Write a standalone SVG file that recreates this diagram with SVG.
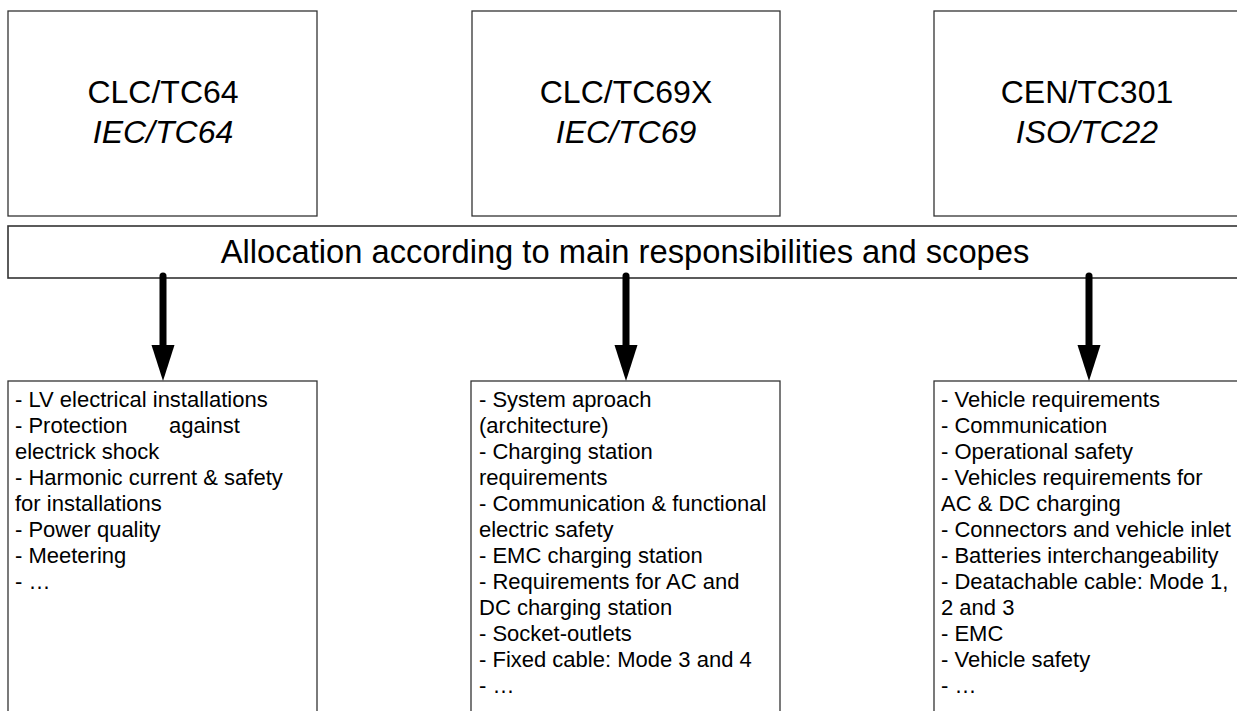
<svg xmlns="http://www.w3.org/2000/svg" width="1237" height="711" viewBox="0 0 1237 711">
<defs>
<style>
.box{fill:#fff;stroke:#333;stroke-width:1.3}
.bar{fill:#fff;stroke:#333;stroke-width:1.6}
.title{font-family:"Liberation Sans",Arial,sans-serif;font-size:32px;fill:#000;text-anchor:middle}
.big{font-size:32.7px}
.it{font-style:italic}
.list{font-family:"Liberation Sans",Arial,sans-serif;font-size:22px;fill:#000}
.arrow{stroke:#000;stroke-width:7;stroke-linecap:round;fill:none}
</style>
<marker id="head" markerUnits="userSpaceOnUse" markerWidth="37" markerHeight="24" refX="0" refY="12" orient="auto" viewBox="0 0 37 24">
<path d="M0,0.5 L36,12 L0,23.5 z" fill="#000"/>
</marker>
</defs>
<rect width="1237" height="711" fill="#fff"/>
<g id="node-clc-tc64">
<rect class="box" x="8" y="11" width="309" height="205"/>
<text class="title" x="163" y="103">CLC/TC64</text>
<text class="title it" x="163" y="143">IEC/TC64</text>
</g>
<g id="node-clc-tc69x">
<rect class="box" x="472" y="11" width="308" height="205"/>
<text class="title" x="626" y="103">CLC/TC69X</text>
<text class="title it" x="626" y="143">IEC/TC69</text>
</g>
<g id="node-cen-tc301">
<rect class="box" x="934" y="11" width="309" height="205"/>
<text class="title" x="1087" y="103">CEN/TC301</text>
<text class="title it" x="1087" y="143">ISO/TC22</text>
</g>
<g id="node-allocation">
<rect class="bar" x="8" y="226" width="1240" height="52"/>
<text class="title big" x="625" y="263">Allocation according to main responsibilities and scopes</text>
</g>
<g id="connectors">
<line class="arrow" x1="163" y1="276" x2="163" y2="345" marker-end="url(#head)"/>
<line class="arrow" x1="626" y1="276" x2="626" y2="345" marker-end="url(#head)"/>
<line class="arrow" x1="1089" y1="276" x2="1089" y2="345" marker-end="url(#head)"/>
</g>
<g id="node-list-tc64">
<rect class="box" x="8" y="381" width="309" height="340"/>
<text class="list" x="15" y="407">- LV electrical installations</text>
<text class="list" x="15" y="433">- Protection<tspan x="169">against</tspan></text>
<text class="list" x="15" y="459">electrick shock</text>
<text class="list" x="15" y="485">- Harmonic current &amp; safety</text>
<text class="list" x="15" y="511">for installations</text>
<text class="list" x="15" y="537">- Power quality</text>
<text class="list" x="15" y="563">- Meetering</text>
<text class="list" x="15" y="589">- …</text>
</g>
<g id="node-list-tc69">
<rect class="box" x="471" y="381" width="309" height="340"/>
<text class="list" x="479" y="407">- System aproach</text>
<text class="list" x="479" y="433">(architecture)</text>
<text class="list" x="479" y="459">- Charging station</text>
<text class="list" x="479" y="485">requirements</text>
<text class="list" x="479" y="511">- Communication &amp; functional</text>
<text class="list" x="479" y="537">electric safety</text>
<text class="list" x="479" y="563">- EMC charging station</text>
<text class="list" x="479" y="589">- Requirements for AC and</text>
<text class="list" x="479" y="615">DC charging station</text>
<text class="list" x="479" y="641">- Socket-outlets</text>
<text class="list" x="479" y="667">- Fixed cable: Mode 3 and 4</text>
<text class="list" x="479" y="693">- …</text>
</g>
<g id="node-list-tc301">
<rect class="box" x="934" y="381" width="309" height="340"/>
<text class="list" x="941" y="407">- Vehicle requirements</text>
<text class="list" x="941" y="433">- Communication</text>
<text class="list" x="941" y="459">- Operational safety</text>
<text class="list" x="941" y="485">- Vehicles requirements for</text>
<text class="list" x="941" y="511">AC &amp; DC charging</text>
<text class="list" x="941" y="537">- Connectors and vehicle inlet</text>
<text class="list" x="941" y="563">- Batteries interchangeability</text>
<text class="list" x="941" y="589">- Deatachable cable: Mode 1,</text>
<text class="list" x="941" y="615">2 and 3</text>
<text class="list" x="941" y="641">- EMC</text>
<text class="list" x="941" y="667">- Vehicle safety</text>
<text class="list" x="941" y="693">- …</text>
</g>
</svg>
